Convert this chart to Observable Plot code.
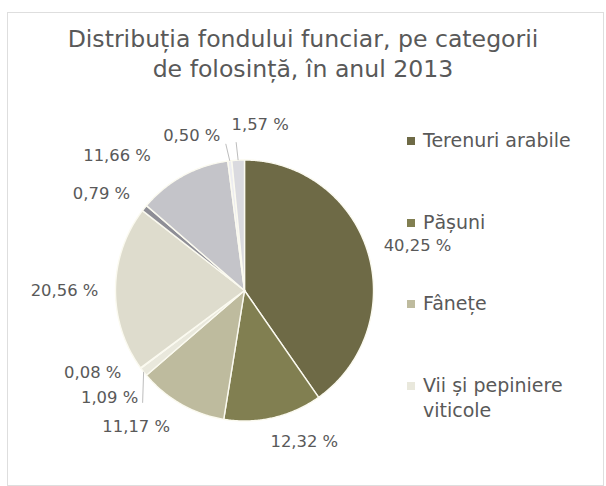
<!DOCTYPE html>
<html>
<head>
<meta charset="utf-8">
<script src="https://cdn.jsdelivr.net/npm/d3@7"></script>
<script src="https://cdn.jsdelivr.net/npm/@observablehq/plot@0.6"></script>
<style>
  html, body { margin: 0; padding: 0; background: #ffffff; }
  #wrap { position: relative; width: 606px; height: 486px; overflow: hidden; background: #fff;
          font-family: "DejaVu Sans", sans-serif; color: #595959; }
  #frame { position: absolute; left: 7px; top: 12px; width: 597px; height: 474px; border: 1px solid #dedede; box-sizing: border-box; pointer-events: none; }
  #title { position: relative; height: 92px; width: 606px; text-align: center; font-size: 23.6px; line-height: 30px; padding-top: 24px; box-sizing: border-box; }
  #chart { position: relative; }
  #legend { position: absolute; left: 407px; top: 0; width: 195px; font-size: 19px; }
  .item { position: absolute; left: 0; display: flex; align-items: flex-start; line-height: 25px; }
  .sw { width: 8px; height: 8px; margin-top: 9px; margin-right: 8px; flex: none; }
  .txt { width: 172px; }
</style>
</head>
<body>
<div id="wrap">
  <div id="frame"></div>
  <div id="title"></div>
  <div id="chart"></div>
  <div id="legend"></div>
</div>
<script>
// ---- data ----
const titleLines = ["Distribuția fondului funciar, pe categorii", "de folosință, în anul 2013"];
const categories = [
  "Terenuri arabile",
  "Pășuni",
  "Fânețe",
  "Vii și pepiniere viticole",
  "Livezi și pepiniere pomicole",
  "Păduri și altă vegetație forestieră",
  "Ape și bălți",
  "Construcții",
  "Căi de comunicații și căi ferate",
  "Terenuri degradate și neproductive"
];
const values = [40.25, 12.32, 11.17, 1.09, 0.08, 20.56, 0.79, 11.66, 0.50, 1.57];
const legendCategories = categories.slice(0, 4);

// ---- style / layout ----
const colors = ["#6e6a46", "#817f51", "#bebb9e", "#e9e8dc", "#f4f4ec", "#dedccd", "#8e8e96", "#c4c4c9", "#ededf1", "#dadadf"];
const labelOffsets = [[50, -5], [31, 24], [-45, 23], [-34, 26], [-48, 5], [-51, 2], [-43, -14], [-66, -20], [-38, -25], [22, -35]];
const leaderEnds = {3: [-1, 31], 8: [-4, -17], 9: [-2, -18]};
const W = 606, H = 394, CX = 244, CY = 198, RX = 129, RY = 130.5;

document.getElementById("title").innerHTML = titleLines.join("<br>");

const fmt = v => v.toFixed(2).replace(".", ",") + " %";
const total = d3.sum(values);
let acc = 0;
const slices = values.map((v, i) => {
  const a0 = acc / total * 2 * Math.PI; acc += v;
  const a1 = acc / total * 2 * Math.PI;
  return {i, category: categories[i], value: v, a0, a1, mid: (a0 + a1) / 2,
          ex: Math.sin((a0 + a1) / 2), ey: Math.cos((a0 + a1) / 2), label: fmt(v)};
});

const ring = [];
for (const s of slices) {
  const n = Math.max(2, Math.ceil((s.a1 - s.a0) / (Math.PI / 360)));
  ring.push({category: s.category, x: 0, y: 0});
  for (let k = 0; k <= n; k++) {
    const a = s.a0 + (s.a1 - s.a0) * k / n;
    ring.push({category: s.category, x: Math.sin(a), y: Math.cos(a)});
  }
  ring.push({category: s.category, x: 0, y: 0});
}

const leaders = slices.filter(s => leaderEnds[s.i]).map(s => ({
  x1: s.ex, y1: s.ey,
  x2: s.ex + leaderEnds[s.i][0] / RX, y2: s.ey - leaderEnds[s.i][1] / RY
}));

const textMarks = slices.map(s => Plot.text([s], {
  x: "ex", y: "ey", text: "label",
  dx: labelOffsets[s.i][0], dy: labelOffsets[s.i][1],
  fill: "#595959", fontSize: 16.4, textAnchor: "middle"
}));

const chart = Plot.plot({
  width: W, height: H,
  marginLeft: CX - RX, marginRight: W - (CX + RX),
  marginTop: CY - RY, marginBottom: H - (CY + RY),
  x: {domain: [-1, 1], axis: null},
  y: {domain: [-1, 1], axis: null},
  color: {domain: categories, range: colors},
  style: {fontFamily: "'DejaVu Sans', sans-serif", background: "transparent", overflow: "visible"},
  marks: [
    Plot.line(ring, {x: "x", y: "y", z: "category", fill: "category", stroke: "#fbfaf0", strokeWidth: 1.4, curve: "linear"}),
    Plot.link(leaders, {x1: "x1", y1: "y1", x2: "x2", y2: "y2", stroke: "#bdbdbd", strokeWidth: 1}),
    ...textMarks
  ]
});
document.getElementById("chart").appendChild(chart);

// legend (first 4 categories, as in the original)
const legendTops = [128, 210, 291, 373];
const legend = document.getElementById("legend");
legendCategories.forEach((c, i) => {
  const it = document.createElement("div");
  it.className = "item";
  it.style.top = legendTops[i] + "px";
  it.innerHTML = `<div class="sw" style="background:${colors[categories.indexOf(c)]}"></div><div class="txt">${c}</div>`;
  legend.appendChild(it);
});
</script>
</body>
</html>
